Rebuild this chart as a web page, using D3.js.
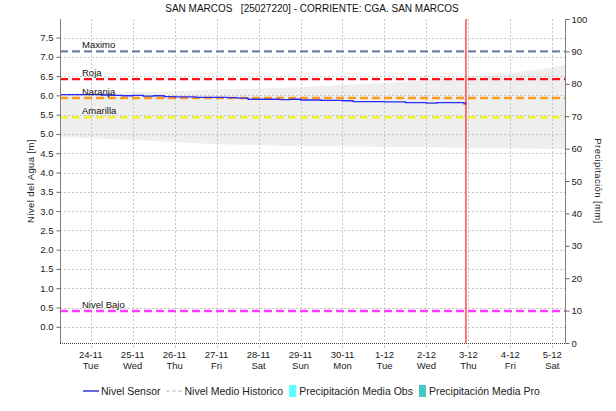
<!DOCTYPE html>
<html>
<head>
<meta charset="utf-8">
<script src="https://cdn.jsdelivr.net/npm/d3@7"></script>
<style>
  html, body { margin: 0; padding: 0; background: #fff; }
  svg { display: block; font-family: "Liberation Sans", Arial, sans-serif; }
</style>
</head>
<body>
<svg id="chart" width="616" height="411"></svg>
<script>
// ---- Data ----
const titleText = "SAN MARCOS   [25027220] - CORRIENTE: CGA. SAN MARCOS";

// Sensor water level (m), 6-hourly readings
const sensorTimes = [
  "2020-11-23T06:30Z","2020-11-23T12:00Z","2020-11-23T18:00Z",
  "2020-11-24T00:00Z","2020-11-24T06:00Z","2020-11-24T12:00Z","2020-11-24T18:00Z",
  "2020-11-25T00:00Z","2020-11-25T06:00Z","2020-11-25T12:00Z","2020-11-25T18:00Z",
  "2020-11-26T00:00Z","2020-11-26T06:00Z","2020-11-26T12:00Z","2020-11-26T18:00Z",
  "2020-11-27T00:00Z","2020-11-27T06:00Z","2020-11-27T12:00Z","2020-11-27T18:00Z",
  "2020-11-28T00:00Z","2020-11-28T06:00Z","2020-11-28T12:00Z","2020-11-28T18:00Z",
  "2020-11-29T00:00Z","2020-11-29T06:00Z","2020-11-29T12:00Z","2020-11-29T18:00Z",
  "2020-11-30T00:00Z","2020-11-30T06:00Z","2020-11-30T12:00Z","2020-11-30T18:00Z",
  "2020-12-01T00:00Z","2020-12-01T06:00Z","2020-12-01T12:00Z","2020-12-01T18:00Z",
  "2020-12-02T00:00Z","2020-12-02T06:00Z","2020-12-02T12:00Z","2020-12-02T18:00Z",
  "2020-12-02T21:30Z","2020-12-02T22:30Z"
];
const sensorValues = [
  6.02, 6.02, 6.02,
  6.02, 6.01, 6.00, 5.99,
  6.00, 5.98, 5.99, 5.97,
  5.96, 5.96, 5.95, 5.95,
  5.95, 5.94, 5.93, 5.90,
  5.90, 5.90, 5.89, 5.90,
  5.88, 5.88, 5.87, 5.87,
  5.86, 5.84, 5.84, 5.84,
  5.83, 5.83, 5.81, 5.81,
  5.80, 5.81, 5.81, 5.81,
  5.78, 5.83
];

// Historic range of level (m), daily
const bandTimes = [
  "2020-11-23T06:27Z","2020-11-24T00:00Z","2020-11-25T00:00Z","2020-11-26T00:00Z",
  "2020-11-27T00:00Z","2020-11-28T00:00Z","2020-11-29T00:00Z","2020-11-30T00:00Z",
  "2020-12-01T00:00Z","2020-12-02T00:00Z","2020-12-03T00:00Z","2020-12-04T00:00Z",
  "2020-12-05T00:00Z","2020-12-05T07:15Z"
];
const bandMax = [6.03, 6.06, 6.08, 6.11, 6.16, 6.18, 6.21, 6.27, 6.32, 6.39, 6.47, 6.57, 6.73, 6.78];
const bandMin = [4.92, 4.89, 4.84, 4.79, 4.73, 4.71, 4.68, 4.68, 4.66, 4.66, 4.63, 4.63, 4.61, 4.61];

// Alert thresholds (m)
const thresholdNames = ["Maximo", "Roja", "Naranja", "Amarilla", "Nivel Bajo"];
const thresholdValues = [7.14, 6.42, 5.93, 5.43, 0.41];

// Axis ticks
const levelTicks = [0.0, 0.5, 1.0, 1.5, 2.0, 2.5, 3.0, 3.5, 4.0, 4.5, 5.0, 5.5, 6.0, 6.5, 7.0, 7.5];
const precipTicks = [0, 10, 20, 30, 40, 50, 60, 70, 80, 90, 100];
const dayTicks = [
  "2020-11-24","2020-11-25","2020-11-26","2020-11-27","2020-11-28","2020-11-29",
  "2020-11-30","2020-12-01","2020-12-02","2020-12-03","2020-12-04","2020-12-05"
];
const nowTime = "2020-12-02T22:36Z";

const legendLabels = ["Nivel Sensor", "Nivel Medio Historico", "Precipitación Media Obs", "Precipitación Media Pro"];

// ---- Styles ----
const thresholdColors = {
  "Maximo": "#7080a8", "Roja": "#ff1010", "Naranja": "#ff9a1a",
  "Amarilla": "#f4f41c", "Nivel Bajo": "#ff3cff"
};
const gridColor = "#c8c8c8";

// ---- Layout ----
const svg = d3.select("#chart");
const X0 = 60, X1 = 565, Y0 = 19, Y1 = 343;

const x = d3.scaleUtc()
  .domain([new Date("2020-11-23T06:27Z"), new Date("2020-12-05T07:15Z")])
  .range([X0, X1]);
const y = d3.scaleLinear().domain([-0.42, 7.98]).range([Y1, Y0]);
const yR = d3.scaleLinear().domain([0, 100]).range([Y1, Y0]);

// Title
svg.append("text")
  .attr("x", 312).attr("y", 12)
  .attr("text-anchor", "middle")
  .attr("font-size", 10)
  .attr("fill", "#111")
  .style("white-space", "pre")
  .text(titleText);

const plot = svg.append("g");

// Historic band
const band = d3.area()
  .x((d, i) => x(new Date(bandTimes[i])))
  .y0((d, i) => y(bandMin[i]))
  .y1((d, i) => y(bandMax[i]));
plot.append("path")
  .datum(bandTimes)
  .attr("d", band)
  .attr("fill", "#efefef");

// Grid
plot.selectAll(".hgrid").data(levelTicks).enter().append("line")
  .attr("x1", X0).attr("x2", X1)
  .attr("y1", d => Math.round(y(d)) + 0.5).attr("y2", d => Math.round(y(d)) + 0.5)
  .attr("stroke", gridColor).attr("stroke-dasharray", "2,2");
plot.selectAll(".vgrid").data(dayTicks).enter().append("line")
  .attr("x1", d => Math.round(x(new Date(d + "T00:00Z"))) + 0.5)
  .attr("x2", d => Math.round(x(new Date(d + "T00:00Z"))) + 0.5)
  .attr("y1", Y0).attr("y2", Y1)
  .attr("stroke", gridColor).attr("stroke-dasharray", "2,2");

// Thresholds
thresholdNames.forEach((name, i) => {
  const yy = y(thresholdValues[i]);
  plot.append("line")
    .attr("x1", X0).attr("x2", X1)
    .attr("y1", yy).attr("y2", yy)
    .attr("stroke", thresholdColors[name])
    .attr("stroke-width", 2.4)
    .attr("stroke-dasharray", "8,4");
});

// Sensor line
const sensorLine = d3.line()
  .x((d, i) => x(new Date(sensorTimes[i])))
  .y(d => y(d))
  .curve(d3.curveStepAfter);
plot.append("path")
  .datum(sensorValues)
  .attr("d", sensorLine)
  .attr("fill", "none")
  .attr("stroke", "#2b2bf5")
  .attr("stroke-width", 1.3);

// Threshold labels
thresholdNames.forEach((name, i) => {
  plot.append("text")
    .attr("x", 82).attr("y", y(thresholdValues[i]) - 3)
    .attr("font-size", 9.5)
    .attr("fill", "#111")
    .text(name);
});

// Current time marker
plot.append("line")
  .attr("x1", x(new Date(nowTime))).attr("x2", x(new Date(nowTime)))
  .attr("y1", Y0).attr("y2", Y1)
  .attr("stroke", "#ff2020").attr("stroke-width", 1.2);

// Left axis
const leftAxis = d3.axisLeft(y).tickValues(levelTicks).tickFormat(d3.format(".1f")).tickSize(4).tickPadding(3);
const gL = svg.append("g").attr("transform", `translate(${X0 + 0.5},0)`).call(leftAxis);
gL.select(".domain").attr("stroke", "#808080").attr("d", `M0,${Y0}V${Y1}`);
gL.selectAll(".tick line").attr("stroke", "#666");
gL.selectAll(".tick text").attr("font-size", 9.5).attr("fill", "#222").attr("font-family", "Liberation Sans, Arial, sans-serif");

// Right axis
const rightAxis = d3.axisRight(yR).tickValues(precipTicks).tickSize(4).tickPadding(2);
const gR = svg.append("g").attr("transform", `translate(${X1 + 0.5},0)`).call(rightAxis);
gR.select(".domain").attr("stroke", "#808080").attr("d", `M0,${Y0}V${Y1}`);
gR.selectAll(".tick line").attr("stroke", "#666");
gR.selectAll(".tick text").attr("font-size", 9.5).attr("fill", "#222").attr("font-family", "Liberation Sans, Arial, sans-serif");

// Bottom axis (dotted base line)
svg.append("line")
  .attr("x1", X0).attr("x2", X1)
  .attr("y1", Y1 + 0.5).attr("y2", Y1 + 0.5)
  .attr("stroke", "#444").attr("stroke-dasharray", "1,1");
const fmtDate = d3.utcFormat("%-d-%-m");
const fmtDay = d3.utcFormat("%a");
const gx = svg.append("g");
dayTicks.forEach(d => {
  const t = new Date(d + "T00:00Z");
  const xx = x(t);
  gx.append("line")
    .attr("x1", Math.round(xx) + 0.5).attr("x2", Math.round(xx) + 0.5)
    .attr("y1", Y1 + 2).attr("y2", Y1 + 5)
    .attr("stroke", "#ccc");
  gx.append("text").attr("x", xx).attr("y", 358)
    .attr("text-anchor", "middle").attr("font-size", 9.5).attr("fill", "#222")
    .text(fmtDate(t));
  gx.append("text").attr("x", xx).attr("y", 369)
    .attr("text-anchor", "middle").attr("font-size", 9.5).attr("fill", "#222")
    .text(fmtDay(t));
});

// Axis titles
svg.append("text")
  .attr("transform", `translate(34,181) rotate(-90)`)
  .attr("text-anchor", "middle").attr("font-size", 9.5).attr("fill", "#222")
  .attr("letter-spacing", 0.4)
  .text("Nivel del Agua [m]");
svg.append("text")
  .attr("transform", `translate(595,181) rotate(90)`)
  .attr("text-anchor", "middle").attr("font-size", 9.5).attr("fill", "#222")
  .attr("letter-spacing", 0.4)
  .text("Precipitación [mm]");

// Legend
const lg = svg.append("g");
let lx = 83;
const ly = 391;
const legendSwatches = [
  g => g.append("line").attr("x1", lx).attr("x2", lx + 16).attr("y1", ly).attr("y2", ly)
        .attr("stroke", "#1a1ad0").attr("stroke-width", 1.3),
  g => g.append("line").attr("x1", lx).attr("x2", lx + 15).attr("y1", ly).attr("y2", ly)
        .attr("stroke", "#c8c8c8").attr("stroke-width", 1.3).attr("stroke-dasharray", "3,3"),
  g => g.append("rect").attr("x", lx).attr("y", ly - 6).attr("width", 7).attr("height", 12)
        .attr("fill", "#5cffff"),
  g => g.append("rect").attr("x", lx).attr("y", ly - 6).attr("width", 7).attr("height", 12)
        .attr("fill", "#45c6c6")
];
const swatchW = [18, 18, 10, 10];
legendLabels.forEach((label, i) => {
  legendSwatches[i](lg);
  lx += swatchW[i];
  const t = lg.append("text").attr("x", lx).attr("y", ly + 4)
    .attr("font-size", 10.5).attr("fill", "#222").text(label);
  lx += t.node().getComputedTextLength() + 6;
});
</script>
</body>
</html>
